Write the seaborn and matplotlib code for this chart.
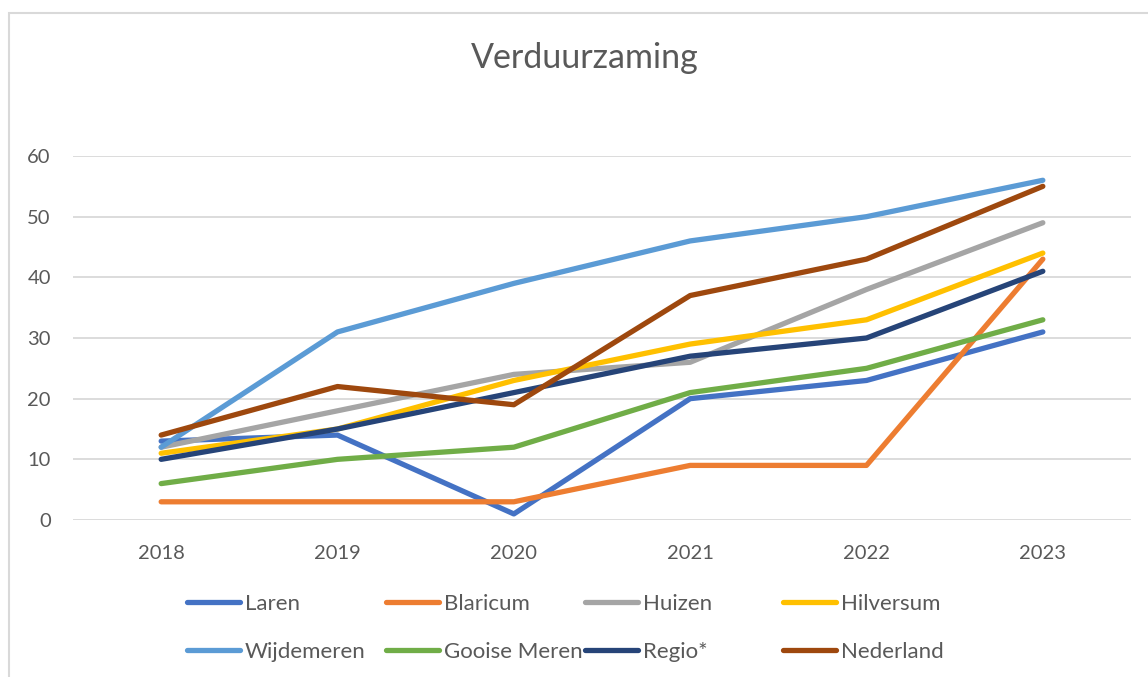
import pandas as pd
import matplotlib.pyplot as plt
import seaborn as sns
from matplotlib.patches import Rectangle

jaren = ["2018", "2019", "2020", "2021", "2022", "2023"]
laren = [13, 14, 1, 20, 23, 31]
blaricum = [3, 3, 3, 9, 9, 43]
huizen = [12, 18, 24, 26, 38, 49]
hilversum = [11, 15, 23, 29, 33, 44]
wijdemeren = [12, 31, 39, 46, 50, 56]
gooise_meren = [6, 10, 12, 21, 25, 33]
regio = [10, 15, 21, 27, 30, 41]
nederland = [14, 22, 19, 37, 43, 55]

reeksen = {
    "Laren": laren,
    "Blaricum": blaricum,
    "Huizen": huizen,
    "Hilversum": hilversum,
    "Wijdemeren": wijdemeren,
    "Gooise Meren": gooise_meren,
    "Regio*": regio,
    "Nederland": nederland,
}
kleuren = ["#4472C4", "#ED7D31", "#A5A5A5", "#FFC000",
           "#5B9BD5", "#70AD47", "#264478", "#9E480E"]

df = pd.DataFrame(
    [(naam, jaar, v) for naam, vals in reeksen.items() for jaar, v in zip(jaren, vals)],
    columns=["gemeente", "jaar", "waarde"],
)

sns.set_style("white")
plt.rcParams["font.family"] = ["Lato", "DejaVu Sans"]

fig = plt.figure(figsize=(11.48, 6.77), dpi=100)
ax = fig.add_axes([73 / 1148, 1 - 520 / 677, (1131 - 73) / 1148, (520 - 156) / 677])

sns.lineplot(data=df, x="jaar", y="waarde", hue="gemeente", palette=kleuren,
             hue_order=list(reeksen.keys()), linewidth=3.8, ax=ax, legend=True,
             sort=False)
for line in ax.lines:
    line.set_solid_capstyle("round")
    line.set_solid_joinstyle("round")

ax.set_xlim(-0.5, 5.5)
ax.set_ylim(0, 60)
ax.set_yticks(range(0, 61, 10))
ax.yaxis.grid(True, color="#D9D9D9", linewidth=1.3)
ax.set_axisbelow(True)
for s in ax.spines.values():
    s.set_visible(False)
ax.tick_params(axis="both", length=0, labelsize=14.5, labelcolor="#595959")
ax.tick_params(axis="x", pad=18)
ax.tick_params(axis="y", pad=16)
ax.set(xlabel="", ylabel="")

# legenda: 4 kolommen met vaste afstand, zoals in Excel
handles, labels = ax.get_legend_handles_labels()
ax.get_legend().remove()
kolom_x = [187, 386, 585, 783]
for i, x in enumerate(kolom_x):
    leg = fig.legend([handles[i], handles[i + 4]], [labels[i], labels[i + 4]],
                     loc="upper left", bbox_to_anchor=(x / 1148, 1 - 594 / 677),
                     frameon=False, fontsize=16, labelcolor="#595959",
                     handlelength=2.4, handletextpad=0.2, labelspacing=1.25,
                     borderpad=0, borderaxespad=0)
    for h in leg.get_lines():
        h.set_linewidth(3.8)
        h.set_solid_capstyle("round")

fig.text(585 / 1148, 1 - 58 / 677, "Verduurzaming", ha="center", va="center",
         fontsize=24.5, color="#595959")

fig.patches.append(Rectangle((8.5 / 1148, -0.1), 1.2, 1 - 12.5 / 677 + 0.1,
                             transform=fig.transFigure, fill=False,
                             edgecolor="#D9D9D9", linewidth=1.5))

fig.savefig("out.png", dpi=100)
